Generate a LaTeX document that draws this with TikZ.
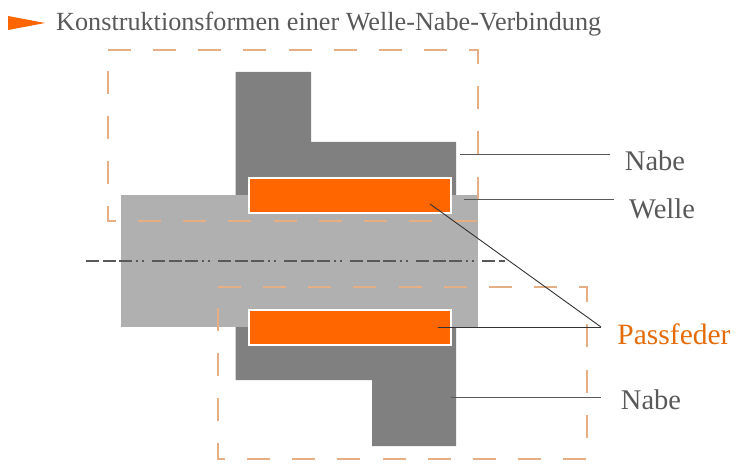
\documentclass[tikz,border=0pt]{standalone}
\usepackage{xcolor}
\usepackage{fontspec}
\setmainfont{Liberation Serif}
\usetikzlibrary{positioning}

\definecolor{hubgray}{HTML}{808080}
\definecolor{shaftgray}{HTML}{B0B0B0}
\definecolor{keyorange}{HTML}{FF6600}
\definecolor{dashorange}{HTML}{E6AE84}
\definecolor{labelgray}{HTML}{595959}
\definecolor{labelorange}{HTML}{E36C0A}

\tikzset{
  keybox/.style={draw=white, line width=1.5pt, fill=keyorange, minimum width=202pt, minimum height=35pt, inner sep=0pt},
  partlabel/.style={text=labelgray, font=\fontsize{28.5}{32}\selectfont, inner sep=0pt},
  cutline/.style={draw=dashorange, line width=1.1pt, dash pattern=on 23pt off 22.15pt},
  leader/.style={draw=labelgray, line width=1pt},
  keyleader/.style={draw=black!80, line width=0.9pt}
}

\begin{document}
\begin{tikzpicture}[x=1pt, y=-1pt]
  \useasboundingbox (0,0) rectangle (750,465);

  % Title with the small orange arrow
  \fill[keyorange] (8,16) -- (45,23) -- (8,30) -- cycle;
  \node[partlabel, font=\fontsize{26.2}{30}\selectfont, anchor=west] (title) at (56,24) {Konstruktionsformen einer Welle-Nabe-Verbindung};

  % Hub, upper and lower half
  \fill[hubgray] (235.5,72) -- (311,72) -- (311,142) -- (456,142) -- (456,200) -- (235.5,200) -- cycle;
  \fill[hubgray] (235.5,320) -- (456,320) -- (456,446) -- (372,446) -- (372,380) -- (235.5,380) -- cycle;

  % Shaft
  \fill[shaftgray] (121,195) rectangle (478,327);

  % Cut-out frames, clockwise from the top left corner
  \draw[cutline] (108,50) -- (478,50) -- (478,221) -- (108,221) -- cycle;
  \draw[cutline] (218,287) -- (587,287) -- (587,459) -- (218,459) -- cycle;

  % Centre line
  \coordinate (axisL) at (86,261);
  \coordinate (axisR) at (505,261);
  \draw[draw=labelgray, line width=1.2pt, dash pattern=on 13pt off 3.5pt on 13pt off 3.5pt on 13pt off 3.5pt on 2pt off 4pt on 2pt off 8.5pt] (axisL) -- (axisR);

  % Keys
  \node[keybox] (keyU) at (350,195.5) {};
  \node[keybox] (keyL) at (350,327.5) {};

  % Labels
  \node[partlabel] (nabeU) at (655,161) {Nabe};
  \node[partlabel] (welle) at (662,209) {Welle};
  \node[partlabel, text=labelorange, font=\fontsize{29.5}{32}\selectfont] (passfeder) at (674,334) {Passfeder};
  \node[partlabel] (nabeL) at (651,400) {Nabe};

  % Leader lines
  \coordinate (hubU) at (460,155);
  \coordinate (hubUend) at (610,155);
  \coordinate (shaftR) at (464,199.5);
  \coordinate (shaftend) at (614,199.5);
  \coordinate (hubL) at (451,397);
  \coordinate (hubLend) at (601,397);
  \coordinate (keyUin) at (430,204);
  \coordinate (keyLin) at (438,327);
  \coordinate (passend) at (601,327);

  \draw[leader] (hubU) -- (hubUend);
  \draw[leader] (shaftR) -- (shaftend);
  \draw[leader] (hubL) -- (hubLend);
  \draw[keyleader] (keyUin) -- (passend);
  \draw[keyleader] (keyLin) -- (passend);
\end{tikzpicture}
\end{document}
